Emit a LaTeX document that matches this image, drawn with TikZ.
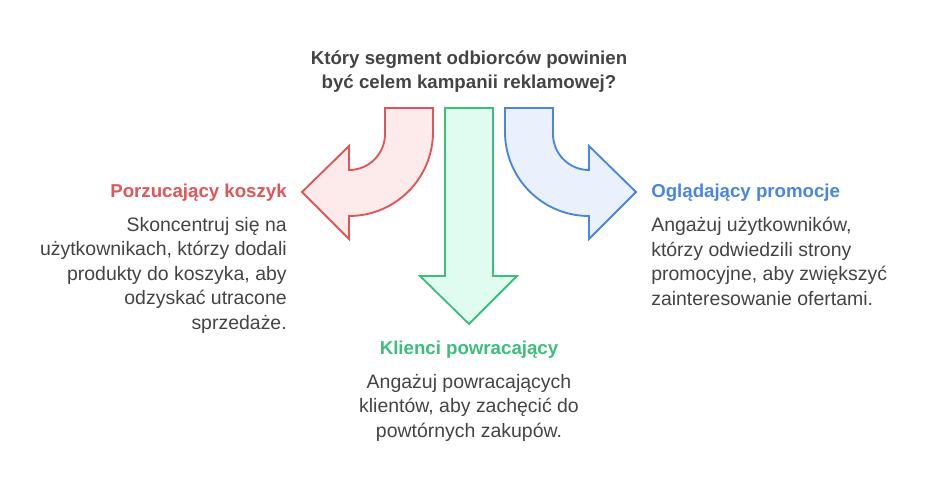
\documentclass[tikz,border=0pt]{standalone}
\usepackage{fontspec}
\setmainfont{Liberation Sans}
\definecolor{rS}{HTML}{E05555}\definecolor{rF}{HTML}{FDEBEB}
\definecolor{gS}{HTML}{3DBE7A}\definecolor{gF}{HTML}{E0FBEF}
\definecolor{bS}{HTML}{4A86E0}\definecolor{bF}{HTML}{EAF1FD}
\definecolor{tx}{HTML}{444444}
\begin{document}
\begin{tikzpicture}[x=0.75pt,y=-0.75pt,
  arr/.style={line width=1.4pt,line join=miter},
  hd/.style={font=\fontsize{14}{16}\selectfont\bfseries},
  bd/.style={font=\fontsize{14.6}{18.4}\selectfont,text=tx,inner sep=0pt}]
\useasboundingbox (0,0) rectangle (926,494);
% red
\draw[arr,draw=rS,fill=rF] (385,108) -- (385,134) arc[start angle=0,end angle=-90,x radius=36,y radius=-36] -- (349,146) -- (302,192) -- (349,239) -- (349,216) arc[start angle=-90,end angle=0,x radius=84,y radius=-84] -- (433,108) -- cycle;
% green
\draw[arr,draw=gS,fill=gF] (445,108) -- (445,276) -- (420,276) -- (469,324) -- (517,276) -- (493,276) -- (493,108) -- cycle;
% blue
\draw[arr,draw=bS,fill=bF] (553,108) -- (553,134) arc[start angle=180,end angle=270,x radius=36,y radius=-36] -- (589,146) -- (636,192) -- (589,239) -- (589,216) arc[start angle=270,end angle=180,x radius=84,y radius=-84] -- (505,108) -- cycle;
\node[hd,text=tx,align=center] (t) at (469,72) {Który segment odbiorców powinien\\[2pt]być celem kampanii reklamowej?};
\node[hd,text=rS,anchor=east,inner sep=0pt] (h1) at (287,193) {Porzucający koszyk};
\node[bd,align=right,anchor=north east] (b1) at (287,217) {Skoncentruj się na\\użytkownikach, którzy dodali\\produkty do koszyka, aby\\odzyskać utracone\\sprzedaże.};
\node[hd,text=bS,anchor=west,inner sep=0pt] (h2) at (651,193) {Oglądający promocje};
\node[bd,align=left,anchor=north west] (b2) at (651,217) {Angażuj użytkowników,\\którzy odwiedzili strony\\promocyjne, aby zwiększyć\\zainteresowanie ofertami.};
\node[hd,text=gS,inner sep=0pt] (h3) at (469,350) {Klienci powracający};
\node[bd,align=center,anchor=north] (b3) at (469,374) {Angażuj powracających\\klientów, aby zachęcić do\\powtórnych zakupów.};
\end{tikzpicture}
\end{document}
